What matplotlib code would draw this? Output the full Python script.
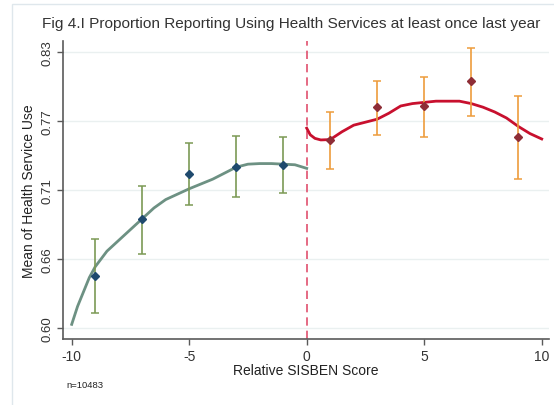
import matplotlib
matplotlib.use("Agg")
import matplotlib.pyplot as plt
from matplotlib.patches import Rectangle

plt.rcParams['font.family'] = ['Liberation Sans', 'DejaVu Sans']

# Binned means with 95% confidence intervals
left_x = [-9, -7, -5, -3, -1]
left_mean = [0.6436, 0.6908, 0.7286, 0.7344, 0.7358]
left_lo = [0.6125, 0.6614, 0.7028, 0.7092, 0.7128]
left_hi = [0.6745, 0.7186, 0.7544, 0.7600, 0.7590]

right_x = [1, 3, 5, 7, 9]
right_mean = [0.7564, 0.7842, 0.7853, 0.8056, 0.7594]
right_lo = [0.7325, 0.7611, 0.7589, 0.7764, 0.7242]
right_hi = [0.7797, 0.8061, 0.8094, 0.8330, 0.7936]

# Local polynomial fits on each side of the cutoff
fit_left_x = [-10, -9.75, -9.5, -9.25, -9, -8.5, -8, -7.5, -7, -6.5, -6,
              -5.5, -5, -4.5, -4, -3.5, -3, -2.5, -2, -1.5, -1, -0.5, 0]
fit_left_y = [0.603, 0.618, 0.630, 0.642, 0.651, 0.664, 0.673, 0.682,
              0.691, 0.700, 0.707, 0.7115, 0.716, 0.720, 0.724, 0.729,
              0.734, 0.7365, 0.737, 0.737, 0.7365, 0.736, 0.733]

fit_right_x = [0, 0.15, 0.35, 0.6, 1, 1.5, 2, 2.5, 3, 3.5, 4, 4.5, 5,
               5.5, 6, 6.5, 7, 7.5, 8, 8.5, 9, 9.5, 10]
fit_right_y = [0.7665, 0.761, 0.758, 0.7567, 0.757, 0.7635, 0.769,
               0.7715, 0.774, 0.779, 0.785, 0.787, 0.788, 0.789, 0.789,
               0.789, 0.787, 0.784, 0.780, 0.775, 0.768, 0.762, 0.7575]

y_ticks = [0.60, 0.6575, 0.715, 0.7725, 0.83]
y_tick_labels = ["0.60", "0.66", "0.71", "0.77", "0.83"]
x_ticks = [-10, -5, 0, 5, 10]

fig = plt.figure(figsize=(5.54, 4.06), dpi=100)
fig.patch.set_facecolor("white")
fig.patches.append(Rectangle((12 / 554, -0.01), 1.0, 1 - 5 / 406 + 0.01,
                             transform=fig.transFigure, fill=False,
                             edgecolor="#dfe7ec", linewidth=1.0))

ax = fig.add_axes([63 / 554, 66 / 406, (549 - 63) / 554, (340 - 41.7) / 406])
ax.set_xlim(-10.37, 10.31)
ax.set_ylim(0.5908, 0.8394)

for yt in y_ticks:
    ax.axhline(yt, color="#eaf0f0", linewidth=1.0, zorder=0)

ax.axvline(0, color="#e0506e", linestyle=(0, (5, 3)), linewidth=1.2, zorder=1)

ax.plot(fit_left_x, fit_left_y, color="#6d9183", linewidth=2.0, zorder=2,
        solid_joinstyle="round")
ax.plot(fit_right_x, fit_right_y, color="#c8102e", linewidth=2.0, zorder=2,
        solid_joinstyle="round")

l_err = [[m - lo for m, lo in zip(left_mean, left_lo)],
         [hi - m for m, hi in zip(left_mean, left_hi)]]
r_err = [[m - lo for m, lo in zip(right_mean, right_lo)],
         [hi - m for m, hi in zip(right_mean, right_hi)]]

ax.errorbar(left_x, left_mean, yerr=l_err, fmt="none", ecolor="#7c9a55",
            elinewidth=1.2, capsize=3, capthick=1.1, zorder=3)
ax.errorbar(right_x, right_mean, yerr=r_err, fmt="none", ecolor="#ee9c3c",
            elinewidth=1.2, capsize=3, capthick=1.1, zorder=3)
ax.plot(left_x, left_mean, linestyle="none", marker="D", markersize=3.6,
        color="#1f4a6e", zorder=4)
ax.plot(right_x, right_mean, linestyle="none", marker="D", markersize=3.6,
        color="#8e2d36", zorder=4)

for side in ["top", "right"]:
    ax.spines[side].set_visible(False)
for side in ["left", "bottom"]:
    ax.spines[side].set_color("#5a5a5a")
    ax.spines[side].set_linewidth(1.2)

ax.set_yticks(y_ticks)
ax.set_yticklabels(y_tick_labels, rotation=90, va="center", fontsize=9.5,
                   color="#333333")
ax.set_xticks(x_ticks)
ax.set_xticklabels([str(t) for t in x_ticks], fontsize=10, color="#333333")
ax.tick_params(axis="both", direction="out", length=4, width=1.0,
               color="#5a5a5a", pad=3)

ax.set_ylabel("Mean of Health Service Use", fontsize=10, color="#222222",
              labelpad=4)
ax.set_xlabel("Relative SISBEN Score", fontsize=10, color="#222222",
              labelpad=0)

fig.text(291 / 554, 1 - 24 / 406,
         "Fig 4.I Proportion Reporting Using Health Services at least once last year",
         ha="center", va="center", fontsize=11.1, color="#333333")
fig.text(66 / 554, 1 - 386 / 406, "n=10483", ha="left", va="center",
         fontsize=6.8, color="#222222")

fig.savefig("out.png", dpi=100)
